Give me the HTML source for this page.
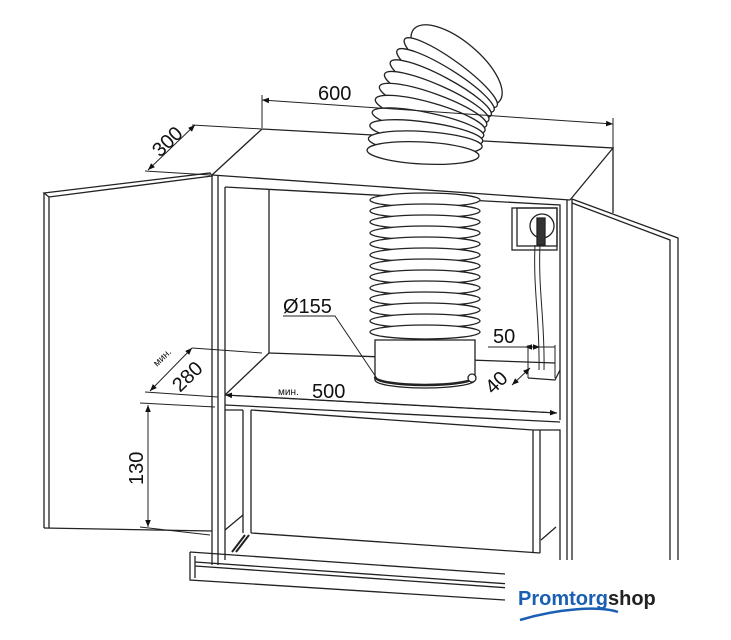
<!DOCTYPE html>
<html><head><style>
body{margin:0;background:#fff;}
svg{display:block;font-family:"Liberation Sans",sans-serif;}
</style></head><body>
<svg width="731" height="640" viewBox="0 0 731 640" xmlns="http://www.w3.org/2000/svg">
<defs>
<marker id="a" viewBox="0 0 10 10" refX="10" refY="5" markerWidth="7" markerHeight="7" orient="auto-start-reverse"><path d="M0,1 L10,5 L0,9 z" fill="#111"/></marker>
</defs>
<rect width="731" height="640" fill="#fff"/>
<g fill="none" stroke="#222" stroke-width="1.3">
<path d="M212,175 L262,129 L613,148 L570,200"/>
<path d="M212,175 L570,200"/>
<line x1="613" y1="148" x2="613" y2="213"/>
<line x1="212" y1="175" x2="212" y2="565"/>
<line x1="218" y1="176" x2="218" y2="565"/>
<path d="M225,187 L560,205 L560,420"/>
<line x1="225" y1="187" x2="225" y2="560"/>
<line x1="269" y1="190" x2="269" y2="353"/>
<path d="M269,353 L555,363"/>
<path d="M269,353 L225,395"/>
<line x1="225" y1="395" x2="557" y2="413"/>
<line x1="225" y1="405" x2="560" y2="422"/>
<path d="M44,193 L210,173 L212,176 L49,197 Z"/>
<line x1="44" y1="193" x2="44" y2="528"/>
<line x1="49" y1="197" x2="49" y2="528"/>
<path d="M44,528 L212,531"/>
<path d="M572,199 L678,238 L678,560"/>
<path d="M572,203 L670,240 L670,560"/>
<line x1="572" y1="199" x2="572" y2="560"/>
<line x1="567" y1="200" x2="567" y2="560"/>
<path d="M225,410 L243,410 M243,410 L243,533 M251,410 L251,533"/>
<path d="M251,410 L533,430 L560,430 L560,560 M533,430 L533,553 M540,430 L540,553"/>
<path d="M251,533 L540,553"/>
<path d="M225,530 L243,515 M541,540 L556,527"/>
<path d="M232,552 L245,535 M236,552 L249,535" stroke-width="2"/>
<path d="M190,552 L520,575 M190,552 L190,580 L505,600 M195,556 L195,578 M195,562 L510,584 M195,566 L510,588"/>
<rect x="517" y="208" width="40" height="38"/>
<rect x="512" y="208" width="45" height="42"/>
<circle cx="542" cy="226" r="12"/>
<path d="M537,218 L545,218 L545,245 L537,245 Z" fill="#333"/>
<path d="M540,245 C538,290 545,320 544,370 M535,245 C533,290 540,320 539,370" stroke-width="1"/>
<path d="M528,378 L555,380 L560,370"/>
</g>
<g fill="#fff" stroke="#222" stroke-width="1.3">
<ellipse cx="456.6" cy="65.2" rx="56" ry="24" transform="rotate(40 456.6 65.2)"/>
<ellipse cx="450.8" cy="72.6" rx="57" ry="12" transform="rotate(36 450.8 72.6)"/>
<ellipse cx="445.5" cy="80.5" rx="57" ry="12" transform="rotate(32 445.5 80.5)"/>
<ellipse cx="440.8" cy="88.6" rx="57" ry="12" transform="rotate(28 440.8 88.6)"/>
<ellipse cx="436.7" cy="97.1" rx="57" ry="12" transform="rotate(24 436.7 97.1)"/>
<ellipse cx="433.1" cy="105.8" rx="57" ry="12" transform="rotate(20 433.1 105.8)"/>
<ellipse cx="430.2" cy="114.8" rx="57" ry="12" transform="rotate(16 430.2 114.8)"/>
<ellipse cx="428.0" cy="123.9" rx="57" ry="11" transform="rotate(12 428 123.9)"/>
<ellipse cx="426.3" cy="133.2" rx="57" ry="11" transform="rotate(8 426.3 133.2)"/>
<ellipse cx="425.3" cy="142.6" rx="57" ry="11" transform="rotate(4 425.3 142.6)"/>
<ellipse cx="423" cy="153" rx="56" ry="11" transform="rotate(3 423 153)"/>
</g>
<g fill="#fff" stroke="#222" stroke-width="1.3">
<path d="M375,340 L375,380 A50,8 0 0 0 475,380 L475,340 Z"/>
<ellipse cx="425" cy="200" rx="55" ry="7"/>
<ellipse cx="425" cy="211" rx="55" ry="7"/>
<ellipse cx="425" cy="222" rx="55" ry="7"/>
<ellipse cx="425" cy="233" rx="55" ry="7"/>
<ellipse cx="425" cy="244" rx="55" ry="7"/>
<ellipse cx="425" cy="255" rx="55" ry="7"/>
<ellipse cx="425" cy="266" rx="55" ry="7"/>
<ellipse cx="425" cy="277" rx="55" ry="7"/>
<ellipse cx="425" cy="288" rx="55" ry="7"/>
<ellipse cx="425" cy="299" rx="55" ry="7"/>
<ellipse cx="425" cy="310" rx="55" ry="7"/>
<ellipse cx="425" cy="321" rx="55" ry="7"/>
<ellipse cx="425" cy="332" rx="55" ry="7"/>
<path d="M375,377 A50,8 0 0 0 475,377" fill="none" stroke-width="2.5"/>
<circle cx="472" cy="378" r="4"/>
</g>
<g fill="none" stroke="#222" stroke-width="1">
<line x1="262" y1="95" x2="262" y2="128"/>
<line x1="613" y1="118" x2="613" y2="148"/>
<line x1="262" y1="100" x2="613" y2="124" marker-start="url(#a)" marker-end="url(#a)"/>
<line x1="192" y1="125" x2="262" y2="129"/>
<line x1="145" y1="171" x2="210" y2="175"/>
<line x1="148" y1="170" x2="195" y2="125" marker-start="url(#a)" marker-end="url(#a)"/>
<line x1="192" y1="348" x2="262" y2="353"/>
<line x1="145" y1="392" x2="218" y2="397"/>
<line x1="150" y1="391" x2="192" y2="348" marker-start="url(#a)" marker-end="url(#a)"/>
<line x1="225" y1="395" x2="557" y2="413" marker-start="url(#a)" marker-end="url(#a)"/>
<line x1="140" y1="403" x2="215" y2="407"/>
<line x1="140" y1="527" x2="210" y2="535"/>
<line x1="148" y1="405" x2="148" y2="527" marker-start="url(#a)" marker-end="url(#a)"/>
<path d="M283,316 L335,316 L378,380"/>
<line x1="488" y1="347" x2="555" y2="347"/>
<line x1="525" y1="347" x2="540" y2="347" marker-start="url(#a)" marker-end="url(#a)"/>
<line x1="528" y1="345" x2="528" y2="378"/>
<line x1="555" y1="345" x2="555" y2="378"/>
<line x1="512" y1="385" x2="530" y2="368" marker-start="url(#a)" marker-end="url(#a)"/>
</g>
<g fill="#111" font-size="20">
<text x="318" y="100">600</text>
<text x="0" y="0" transform="translate(160,158) rotate(-44)">300</text>
<text x="0" y="0" transform="translate(180,393) rotate(-44)">280</text>
<text x="0" y="0" font-size="10" transform="translate(157,367) rotate(-44)">мин.</text>
<text x="278" y="395" font-size="10">мин.</text>
<text x="312" y="398">500</text>
<text x="283" y="313">Ø155</text>
<text x="493" y="343">50</text>
<text x="0" y="0" transform="translate(493,395) rotate(-44)">40</text>
<text x="0" y="0" transform="translate(143,485) rotate(-90)">130</text>
</g>
<rect x="505" y="566" width="226" height="74" fill="#fff"/>
<text x="518" y="605" font-size="20" font-weight="bold" fill="#1a5fb4">Promtorg<tspan fill="#222">shop</tspan></text>
<path d="M520,620 C560,608 600,606 618,612" stroke="#1a5fb4" stroke-width="2.5" fill="none"/>
</svg>
</body></html>
